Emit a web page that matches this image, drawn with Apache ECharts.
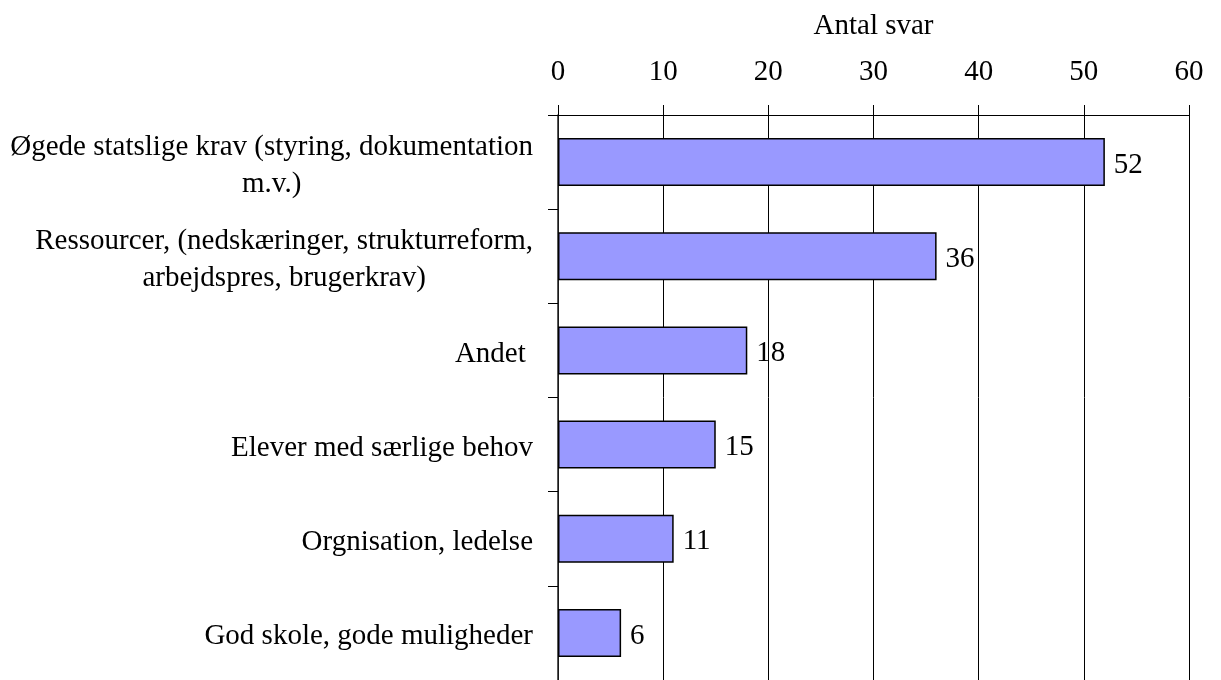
<!DOCTYPE html>
<html>
<head>
<meta charset="utf-8">
<script src="https://cdn.jsdelivr.net/npm/echarts@6/dist/echarts.min.js"></script>
<style>
  html, body { margin: 0; padding: 0; background: #fff; }
  #chart { width: 1221px; height: 680px; }
</style>
</head>
<body>
<div id="chart"></div>
<script>
'use strict';

// kategorier (top -> bund)
var categories = [
    'Øgede statslige krav (styring, dokumentation\nm.v.)',
    'Ressourcer, (nedskæringer, strukturreform,\narbejdspres, brugerkrav)',
    'Andet ',
    'Elever med særlige behov',
    'Orgnisation, ledelse',
    'God skole, gode muligheder'
];
var values = [52, 36, 18, 15, 11, 6];
var axisName = 'Antal svar';

var fontFamily = '"Liberation Serif", "Times New Roman", serif';
var fontSize = 29;

var myChart = echarts.init(document.getElementById('chart'));

var option = {
    backgroundColor: '#fff',
    animation: false,
    grid: {
        left: 558,
        top: 115,
        width: 631,
        height: 568
    },
    xAxis: {
        type: 'value',
        position: 'top',
        min: 0,
        max: 60,
        interval: 10,
        name: axisName,
        nameLocation: 'middle',
        nameGap: 74,
        nameTextStyle: { color: '#000', fontFamily: fontFamily, fontSize: fontSize },
        axisLine: { show: true, lineStyle: { color: '#000', width: 1 } },
        axisTick: { show: true, inside: false, length: 10, lineStyle: { color: '#000' } },
        axisLabel: { color: '#000', fontFamily: fontFamily, fontSize: fontSize, margin: 28 },
        splitLine: { show: true, lineStyle: { color: '#000', width: 1 } }
    },
    yAxis: {
        type: 'category',
        inverse: true,
        data: categories,
        axisLine: { show: true, lineStyle: { color: '#222', width: 1.5 } },
        axisTick: { show: true, inside: false, length: 10, alignWithLabel: false, lineStyle: { color: '#000' } },
        axisLabel: {
            margin: 25,
            padding: [7, 0, 0, 0],
            formatter: function (val) {
                // hver linje centreres inden for blokken
                return val.split('\n').map(function (s) { return '{c|' + s + '}'; }).join('\n');
            },
            rich: {
                c: {
                    align: 'center',
                    color: '#000',
                    fontFamily: fontFamily,
                    fontSize: fontSize,
                    lineHeight: 37
                }
            }
        }
    },
    series: [
        {
            type: 'bar',
            data: values,
            barWidth: 48,
            itemStyle: { color: '#9999FF', borderColor: '#000', borderWidth: 1.5 },
            label: {
                show: true,
                position: 'right',
                distance: 9,
                offset: [0, 3],
                color: '#000',
                fontFamily: fontFamily,
                fontSize: fontSize
            }
        }
    ]
};

myChart.setOption(option);
</script>
</body>
</html>
